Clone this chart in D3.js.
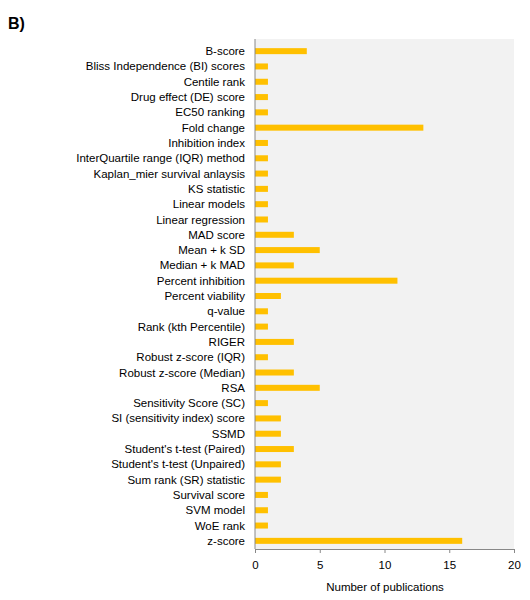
<!DOCTYPE html>
<html><head><meta charset="utf-8">
<script src="https://cdn.jsdelivr.net/npm/d3@7"></script>
<style>body{margin:0;background:#fff;} text{font-family:"Liberation Sans",Arial,sans-serif;}</style>
</head><body>
<svg id="chart" width="530" height="600"></svg>
<script>
const categories = ["B-score","Bliss Independence (BI) scores","Centile rank","Drug effect (DE) score","EC50 ranking","Fold change","Inhibition index","InterQuartile range (IQR) method","Kaplan_mier survival anlaysis","KS statistic","Linear models","Linear regression","MAD score","Mean + k SD","Median + k MAD","Percent inhibition","Percent viability","q-value","Rank (kth Percentile)","RIGER","Robust z-score (IQR)","Robust z-score (Median)","RSA","Sensitivity Score (SC)","SI (sensitivity index) score","SSMD","Student's t-test (Paired)","Student's t-test (Unpaired)","Sum rank  (SR) statistic","Survival score","SVM model","WoE rank","z-score"];
const values = [4,1,1,1,1,13,1,1,1,1,1,1,3,5,3,11,2,1,1,3,1,3,5,1,2,2,3,2,2,1,1,1,16];
const xTicks = [0,5,10,15,20];
const xTitle = "Number of publications";
const panelLabel = "B)";

const svg = d3.select("#chart");
const pLeft = 255, pRight = 514, pTop = 39, pBottom = 549;
const x = d3.scaleLinear().domain([0,20]).range([pLeft,pRight]);
const y = d3.scaleBand().domain(categories).range([43.5,548.5]).paddingInner(0.6).paddingOuter(0.3);

svg.append("text").attr("x",8).attr("y",29).attr("font-size",16).attr("font-weight","bold").text(panelLabel);

svg.append("rect").attr("x",pLeft).attr("y",pTop).attr("width",pRight-pLeft).attr("height",pBottom-pTop).attr("fill","#f2f2f2");

svg.selectAll("rect.bar").data(values).enter().append("rect").attr("class","bar")
  .attr("x",x(0)).attr("y",(d,i)=>y(categories[i]) + y.bandwidth()/2 - 3)
  .attr("width",d=>x(d)-x(0)).attr("height",6).attr("fill","#ffc000");

svg.selectAll("text.cat").data(categories).enter().append("text").attr("class","cat")
  .attr("x",245).attr("y",d=>y(d)+y.bandwidth()/2).attr("dy","0.35em")
  .attr("text-anchor","end").attr("font-size",11.5).attr("fill","#000").text(d=>d);

const xa = svg.append("g").attr("transform",`translate(0,${pBottom})`)
  .call(d3.axisBottom(x).tickValues(xTicks).tickSize(4).tickPadding(8).tickSizeOuter(0));
xa.select(".domain").attr("stroke","#888");
xa.selectAll(".tick line").attr("stroke","#888");
xa.selectAll(".tick text").attr("font-size",11.5).attr("font-family","Liberation Sans, Arial, sans-serif").attr("fill","#000");

svg.append("line").attr("x1",pLeft).attr("x2",pLeft).attr("y1",pTop).attr("y2",pBottom).attr("stroke","#888");

svg.append("text").attr("x",385).attr("y",591).attr("text-anchor","middle").attr("font-size",11.5).text(xTitle);
</script>
</body></html>
